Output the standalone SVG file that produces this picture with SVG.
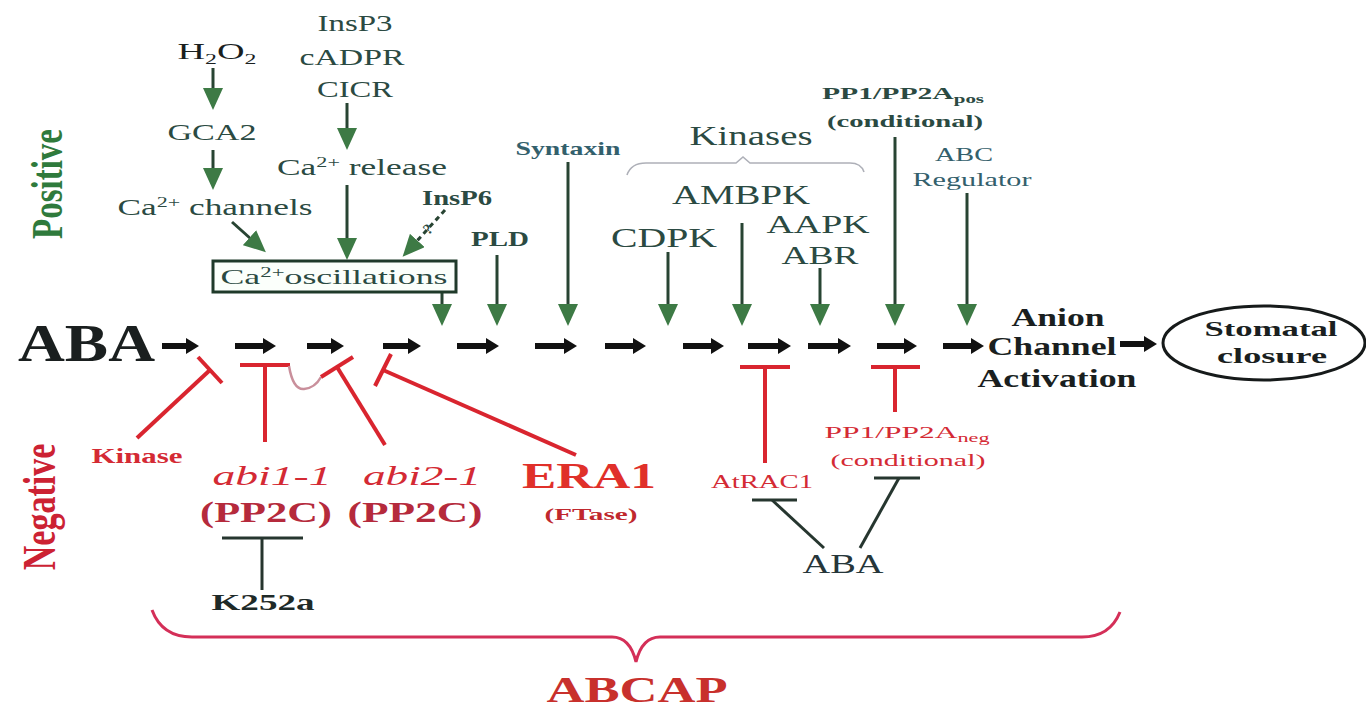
<svg xmlns="http://www.w3.org/2000/svg" width="1366" height="711" viewBox="0 0 1366 711">
<defs>
<style>
text{font-family:"Liberation Serif","Times New Roman",serif}
.tg{fill:#2b4a42}
.tb{fill:#33606c}
.tk{fill:#1a1f1f}
.tr{fill:#d42a34}
.bd{font-weight:bold}
.ga{stroke:#284433;stroke-width:3;fill:none;marker-end:url(#gh)}
.ba{stroke:#111;stroke-width:6;fill:none;marker-end:url(#bh)}
.inh{stroke:#d9252f;stroke-width:4;fill:none}
.dk{stroke:#26362f;stroke-width:3;fill:none}
</style>
<marker id="gh" viewBox="0 0 22 20" refX="2" refY="10" markerWidth="22" markerHeight="20" markerUnits="userSpaceOnUse" orient="auto"><path d="M0,0 L22,10 L0,20 z" fill="#3d7a45"/></marker>
<marker id="bh" viewBox="0 0 13 16" refX="1" refY="8" markerWidth="13" markerHeight="16" markerUnits="userSpaceOnUse" orient="auto"><path d="M0,0 L13,8 L0,16 z" fill="#111"/></marker>
</defs>
<rect width="1366" height="711" fill="#fff"/>

<g id="connectors">
<!-- green activating arrows -->
<line class="ga" x1="213" y1="68" x2="213" y2="90"/>
<line class="ga" x1="213" y1="150" x2="213" y2="170"/>
<line class="ga" x1="347" y1="103" x2="347" y2="130"/>
<line class="ga" x1="347" y1="185" x2="347" y2="240"/>
<line class="ga" x1="232" y1="222" x2="251" y2="239"/>
<line class="ga" x1="445" y1="210" x2="416" y2="242" stroke-dasharray="5,4"/>
<line class="ga" x1="442" y1="293" x2="442" y2="306"/>
<line class="ga" x1="497" y1="255" x2="497" y2="306"/>
<line class="ga" x1="568" y1="162" x2="568" y2="306"/>
<line class="ga" x1="668" y1="252" x2="668" y2="306"/>
<line class="ga" x1="742" y1="223" x2="742" y2="306"/>
<line class="ga" x1="820" y1="268" x2="820" y2="306"/>
<line class="ga" x1="895" y1="137" x2="895" y2="306"/>
<line class="ga" x1="967" y1="193" x2="967" y2="306"/>
<!-- main black arrows -->
<line class="ba" x1="162" y1="346" x2="187" y2="346"/>
<line class="ba" x1="235" y1="346" x2="264" y2="346"/>
<line class="ba" x1="307" y1="346" x2="332" y2="346"/>
<line class="ba" x1="383" y1="346" x2="409" y2="346"/>
<line class="ba" x1="457" y1="346" x2="487" y2="346"/>
<line class="ba" x1="535" y1="346" x2="565" y2="346"/>
<line class="ba" x1="605" y1="346" x2="634" y2="346"/>
<line class="ba" x1="683" y1="346" x2="712" y2="346"/>
<line class="ba" x1="748" y1="346" x2="779" y2="346"/>
<line class="ba" x1="808" y1="346" x2="839" y2="346"/>
<line class="ba" x1="877" y1="346" x2="905" y2="346"/>
<line class="ba" x1="943" y1="346" x2="972" y2="346"/>
<line class="ba" x1="1120" y1="344" x2="1145" y2="344"/>
<!-- red inhibitions -->
<line class="inh" x1="137" y1="438" x2="210" y2="370"/>
<line class="inh" x1="198" y1="357" x2="222" y2="383"/>
<line class="inh" x1="265" y1="442" x2="265" y2="365"/>
<line class="inh" x1="240" y1="365" x2="290" y2="365"/>
<path d="M289,366 Q293,390 304,389 Q315,388 321,377" stroke="#c98f9b" stroke-width="2.5" fill="none"/>
<line class="inh" x1="385" y1="445" x2="337" y2="367"/>
<line class="inh" x1="321" y1="377" x2="353" y2="357"/>
<line class="inh" x1="576" y1="455" x2="383" y2="370"/>
<line class="inh" x1="375" y1="386" x2="391" y2="354"/>
<line class="inh" x1="765" y1="463" x2="765" y2="367"/>
<line class="inh" x1="740" y1="367" x2="790" y2="367"/>
<line class="inh" x1="895" y1="412" x2="895" y2="367"/>
<line class="inh" x1="871" y1="367" x2="920" y2="367"/>
<!-- dark inhibitions -->
<line class="dk" x1="222" y1="538" x2="303" y2="538"/>
<line class="dk" x1="262" y1="538" x2="262" y2="590"/>
<line class="dk" x1="752" y1="500" x2="797" y2="500"/>
<line class="dk" x1="772" y1="500" x2="824" y2="548"/>
<line class="dk" x1="874" y1="478" x2="920" y2="478"/>
<line class="dk" x1="899" y1="478" x2="860" y2="548"/>
<!-- braces -->
<path d="M627,175 Q631,163 646,163 L736,163 L743,157 L750,163 L850,163 Q861,163 864,172" stroke="#aeb0b8" stroke-width="1.6" fill="none"/>
<path d="M152,610 Q162,637 192,637 L612,637 Q630,637 636,662 Q642,637 660,637 L1082,637 Q1110,637 1120,612" stroke="#d42f58" stroke-width="3" fill="none"/>
</g>

<g id="labels-side">
<text class="bd" transform="translate(62,184) scale(1.37,1) rotate(-90)" text-anchor="middle" font-size="33" fill="#2f7a3c">Positive</text>
<text class="bd" transform="translate(55,507) scale(1.37,1) rotate(-90)" text-anchor="middle" font-size="34" fill="#cc2233">Negative</text>
</g>

<g id="n-h2o2"><text class="tk" x="217" y="59" font-size="24" text-anchor="middle" textLength="79" lengthAdjust="spacingAndGlyphs">H<tspan dy="5" font-size="15">2</tspan><tspan dy="-5">O</tspan><tspan dy="5" font-size="15">2</tspan></text></g>
<g id="n-insp3">
<text class="tg" x="355" y="31" font-size="24" text-anchor="middle" textLength="75" lengthAdjust="spacingAndGlyphs">InsP3</text>
<text class="tg" x="352" y="65" font-size="24" text-anchor="middle" textLength="105" lengthAdjust="spacingAndGlyphs">cADPR</text>
<text class="tg" x="355" y="97" font-size="24" text-anchor="middle" textLength="76" lengthAdjust="spacingAndGlyphs">CICR</text>
</g>
<g id="n-gca2"><text class="tg" x="212" y="140" font-size="24" text-anchor="middle" textLength="89" lengthAdjust="spacingAndGlyphs">GCA2</text></g>
<g id="n-carelease"><text class="tg" x="362" y="175" font-size="24" text-anchor="middle" textLength="170" lengthAdjust="spacingAndGlyphs">Ca<tspan dy="-8" font-size="15">2+</tspan><tspan dy="8"> release</tspan></text></g>
<g id="n-cachannels"><text class="tg" x="215" y="215" font-size="24" text-anchor="middle" textLength="195" lengthAdjust="spacingAndGlyphs">Ca<tspan dy="-8" font-size="15">2+</tspan><tspan dy="8"> channels</tspan></text></g>
<g id="n-insp6">
<text class="tg bd" x="457" y="205" font-size="20" text-anchor="middle" textLength="70" lengthAdjust="spacingAndGlyphs">InsP6</text>
<text class="tg bd" x="428" y="234" font-size="15" text-anchor="middle" transform="rotate(-40 428 229)">?</text>
</g>
<g id="n-caosc">
<rect x="213" y="261" width="243" height="31" fill="#fbfffb" stroke="#1f3a2a" stroke-width="3"/>
<text class="tg" x="334" y="284" font-size="22" text-anchor="middle" textLength="227" lengthAdjust="spacingAndGlyphs">Ca<tspan dy="-7" font-size="14">2+</tspan><tspan dy="7">oscillations</tspan></text>
</g>
<g id="n-pld"><text class="tg bd" x="500" y="246" font-size="22" text-anchor="middle" textLength="58" lengthAdjust="spacingAndGlyphs">PLD</text></g>
<g id="n-syntaxin"><text class="tb bd" x="568" y="155" font-size="19" text-anchor="middle" textLength="105" lengthAdjust="spacingAndGlyphs">Syntaxin</text></g>
<g id="n-kinases"><text class="tg" x="751" y="145" font-size="27" text-anchor="middle" textLength="123" lengthAdjust="spacingAndGlyphs">Kinases</text></g>
<g id="n-ambpk"><text class="tg" x="741" y="204" font-size="28" text-anchor="middle" textLength="138" lengthAdjust="spacingAndGlyphs">AMBPK</text></g>
<g id="n-cdpk"><text class="tg" x="664" y="247" font-size="28" text-anchor="middle" textLength="106" lengthAdjust="spacingAndGlyphs">CDPK</text></g>
<g id="n-aapk">
<text class="tg" x="818" y="233" font-size="26" text-anchor="middle" textLength="103" lengthAdjust="spacingAndGlyphs">AAPK</text>
<text class="tg" x="820" y="264" font-size="26" text-anchor="middle" textLength="77" lengthAdjust="spacingAndGlyphs">ABR</text>
</g>
<g id="n-pp1pos">
<text class="tg bd" x="903" y="99" font-size="17" text-anchor="middle" textLength="162" lengthAdjust="spacingAndGlyphs">PP1/PP2A<tspan dy="4" font-size="12">pos</tspan></text>
<text class="tg bd" x="905" y="127" font-size="17" text-anchor="middle" textLength="156" lengthAdjust="spacingAndGlyphs">(conditional)</text>
</g>
<g id="n-abc">
<text class="tb" x="964" y="161" font-size="19" text-anchor="middle" textLength="58" lengthAdjust="spacingAndGlyphs">ABC</text>
<text class="tb" x="972" y="186" font-size="19" text-anchor="middle" textLength="119" lengthAdjust="spacingAndGlyphs">Regulator</text>
</g>
<g id="n-aba-main"><text class="tk bd" x="18" y="361" font-size="53" textLength="137" lengthAdjust="spacingAndGlyphs">ABA</text></g>
<g id="n-anion">
<text class="tk bd" x="1058" y="326" font-size="25" text-anchor="middle" textLength="93" lengthAdjust="spacingAndGlyphs">Anion</text>
<text class="tk bd" x="1052" y="355" font-size="25" text-anchor="middle" textLength="129" lengthAdjust="spacingAndGlyphs">Channel</text>
<text class="tk bd" x="1057" y="387" font-size="25" text-anchor="middle" textLength="159" lengthAdjust="spacingAndGlyphs">Activation</text>
</g>
<g id="n-stomatal">
<ellipse cx="1264" cy="343" rx="101" ry="37" fill="none" stroke="#161a1a" stroke-width="3"/>
<text class="tk bd" x="1271" y="336" font-size="22" text-anchor="middle" textLength="133" lengthAdjust="spacingAndGlyphs">Stomatal</text>
<text class="tk bd" x="1272" y="363" font-size="22" text-anchor="middle" textLength="110" lengthAdjust="spacingAndGlyphs">closure</text>
</g>
<g id="n-kinase"><text class="tr bd" x="137" y="463" font-size="21" text-anchor="middle" textLength="91" lengthAdjust="spacingAndGlyphs">Kinase</text></g>
<g id="n-abi1">
<text class="tr" x="272" y="485" font-size="28" font-style="italic" text-anchor="middle" textLength="119" lengthAdjust="spacingAndGlyphs">abi1-1</text>
<text class="bd" x="266" y="522" font-size="30" fill="#b52a3c" text-anchor="middle" textLength="132" lengthAdjust="spacingAndGlyphs">(PP2C)</text>
</g>
<g id="n-abi2">
<text class="tr" x="422" y="485" font-size="28" font-style="italic" text-anchor="middle" textLength="118" lengthAdjust="spacingAndGlyphs">abi2-1</text>
<text class="bd" x="415" y="522" font-size="30" fill="#b52a3c" text-anchor="middle" textLength="135" lengthAdjust="spacingAndGlyphs">(PP2C)</text>
</g>
<g id="n-era1">
<text class="bd" x="589" y="488" font-size="36" fill="#e0302a" text-anchor="middle" textLength="134" lengthAdjust="spacingAndGlyphs">ERA1</text>
<text class="bd" x="591" y="520" font-size="17" fill="#c0282e" text-anchor="middle" textLength="93" lengthAdjust="spacingAndGlyphs">(FTase)</text>
</g>
<g id="n-k252a"><text class="bd" x="263" y="610" font-size="24" fill="#1e2a28" text-anchor="middle" textLength="103" lengthAdjust="spacingAndGlyphs">K252a</text></g>
<g id="n-atrac1"><text class="tr" x="762" y="488" font-size="18" text-anchor="middle" textLength="102" lengthAdjust="spacingAndGlyphs">AtRAC1</text></g>
<g id="n-pp1neg">
<text class="tr" x="907" y="438" font-size="17" text-anchor="middle" textLength="165" lengthAdjust="spacingAndGlyphs">PP1/PP2A<tspan dy="4" font-size="12">neg</tspan></text>
<text class="tr" x="908" y="466" font-size="17" text-anchor="middle" textLength="155" lengthAdjust="spacingAndGlyphs">(conditional)</text>
</g>
<g id="n-aba-small"><text x="843" y="573" font-size="28" fill="#26363a" text-anchor="middle" textLength="81" lengthAdjust="spacingAndGlyphs">ABA</text></g>
<g id="n-abcap"><text class="bd" x="637" y="702" font-size="36" fill="#c8302c" text-anchor="middle" textLength="181" lengthAdjust="spacingAndGlyphs">ABCAP</text></g>
</svg>
